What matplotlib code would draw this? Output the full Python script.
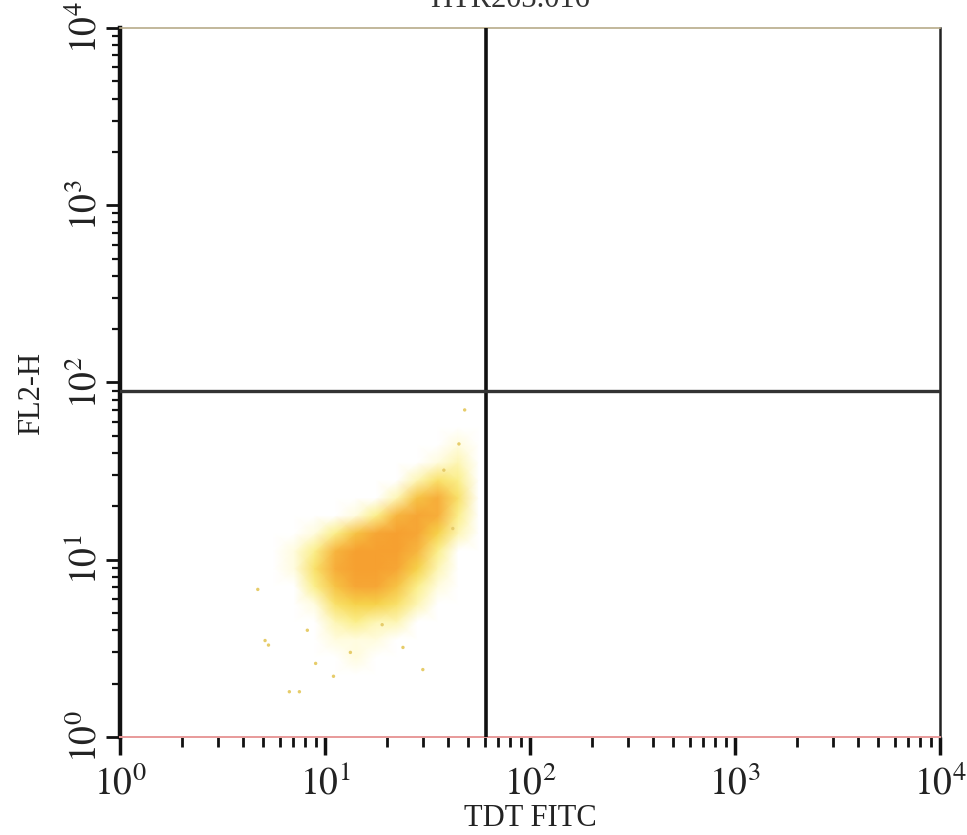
import numpy as np
import matplotlib
matplotlib.use("Agg")
import matplotlib.pyplot as plt
from matplotlib.colors import LinearSegmentedColormap
from matplotlib.ticker import LogLocator, FixedFormatter, NullFormatter, FixedLocator

plt.rcParams['mathtext.fontset'] = 'stix'
plt.rcParams['font.family'] = ['Liberation Serif', 'DejaVu Serif']

# ---- data ----
title_text = "HTR203.016"
x_label = "TDT FITC"
y_label = "FL2-H"
x_tick_vals = [1, 10, 100, 1000, 10000]
x_tick_labels = [r"$10^0$", r"$10^1$", r"$10^2$", r"$10^3$", r"$10^4$"]
y_tick_vals = [1, 10, 100, 1000, 10000]
y_tick_labels = [r"$10^0$", r"$10^1$", r"$10^2$", r"$10^3$", r"$10^4$"]
quad_x = 61.0
quad_y = 89.0

# density grid (log10 bin centres)
dens_x_log = [0.65, 0.75, 0.85, 0.95, 1.05, 1.15, 1.25, 1.35, 1.45, 1.55, 1.65, 1.75, 1.85]
dens_y_log = [0.35, 0.45, 0.55, 0.65, 0.75, 0.85, 0.95, 1.05, 1.15, 1.25, 1.35, 1.45, 1.55, 1.65, 1.75]
density = [
    # 0.65 .75 .85 .95 1.05 1.15 1.25 1.35 1.45 1.55 1.65 1.75 1.85
    [0, 0, 0, 0, 0, 0, 0, 0, 0, 0, 0, 0, 0],   # 0.35
    [0, 0, 0, 0, 0, 1, 0, 0, 0, 0, 0, 0, 0],   # 0.45
    [0, 0, 0, 0, 1, 1, 1, 0, 0, 0, 0, 0, 0],   # 0.55
    [0, 0, 0, 0, 2, 3, 2, 2, 0, 0, 0, 0, 0],   # 0.65
    [0, 0, 0, 1, 4, 5, 5, 4, 2, 0, 0, 0, 0],   # 0.75
    [0, 0, 0, 3, 6, 9, 9, 6, 3, 1, 0, 0, 0],   # 0.85
    [0, 0, 1, 4, 8, 10, 10, 9, 5, 2, 0, 0, 0], # 0.95
    [0, 0, 1, 3, 7, 10, 10, 10, 7, 3, 0, 0, 0],# 1.05
    [0, 0, 0, 1, 3, 6, 9, 10, 9, 5, 2, 0, 0],  # 1.15
    [0, 0, 0, 0, 0, 1, 3, 7, 9, 8, 3, 0, 0],   # 1.25
    [0, 0, 0, 0, 0, 0, 0, 2, 6, 8, 4, 0, 0],   # 1.35
    [0, 0, 0, 0, 0, 0, 0, 0, 2, 4, 3, 0, 0],   # 1.45
    [0, 0, 0, 0, 0, 0, 0, 0, 0, 1, 2, 0, 0],   # 1.55
    [0, 0, 0, 0, 0, 0, 0, 0, 0, 0, 1, 0, 0],   # 1.65
    [0, 0, 0, 0, 0, 0, 0, 0, 0, 0, 0, 0, 0],   # 1.75
]

# sparse outlying events
out_x = [5.1, 4.7, 5.3, 13.3, 19.0, 7.5, 6.7, 45.0, 48.0, 38.0, 9.0, 24.0, 30.0, 11.0, 8.2, 42.0]
out_y = [3.5, 6.8, 3.3, 3.0, 4.3, 1.8, 1.8, 45.0, 70.0, 32.0, 2.6, 3.2, 2.4, 2.2, 4.0, 15.0]

# ---- figure ----
fig = plt.figure(figsize=(9.67, 8.35), dpi=100)
ax = fig.add_axes([0.1241, 0.1174, 0.8480, 0.8491])
ax.set_xscale('log')
ax.set_yscale('log')
ax.set_xlim(1, 10000)
ax.set_ylim(1, 10000)

cmap = LinearSegmentedColormap.from_list(
    "flow", [(0.0, "#ffffff"), (0.12, "#fffbd8"), (0.3, "#fbef8a"),
             (0.5, "#f6d24a"), (0.72, "#f7b23e"), (1.0, "#f6a030")])
X, Y = np.meshgrid(10 ** np.array(dens_x_log), 10 ** np.array(dens_y_log))
ax.pcolormesh(X, Y, np.array(density, dtype=float), shading='gouraud',
              cmap=cmap, vmin=0, vmax=10, zorder=1, rasterized=True)
ax.scatter(out_x, out_y, s=6, color="#e6cc6a", edgecolors='none', zorder=2)

# quadrant lines
ax.axvline(quad_x, color="#111111", lw=2.6, zorder=3)
ax.axhline(quad_y, color="#333333", lw=2.4, zorder=3)

# spines
ax.spines['left'].set_linewidth(3.2)
ax.spines['left'].set_color("#111111")
ax.spines['right'].set_linewidth(1.8)
ax.spines['right'].set_color("#222222")
ax.spines['top'].set_linewidth(1.2)
ax.spines['top'].set_color("#b8ab8a")
ax.spines['bottom'].set_linewidth(1.4)
ax.spines['bottom'].set_color("#e89a9a")

# ticks
ax.xaxis.set_major_locator(FixedLocator(x_tick_vals))
ax.xaxis.set_major_formatter(FixedFormatter(x_tick_labels))
ax.yaxis.set_major_locator(FixedLocator(y_tick_vals))
ax.yaxis.set_major_formatter(FixedFormatter(y_tick_labels))
ax.xaxis.set_minor_locator(LogLocator(base=10, subs=np.arange(2, 10), numticks=20))
ax.yaxis.set_minor_locator(LogLocator(base=10, subs=np.arange(2, 10), numticks=20))
ax.xaxis.set_minor_formatter(NullFormatter())
ax.yaxis.set_minor_formatter(NullFormatter())
ax.tick_params(axis='x', which='major', direction='out', length=13, width=2.5,
               color="#111111", labelsize=27, pad=8, labelcolor="#222222")
ax.tick_params(axis='x', which='minor', direction='out', length=7, width=2,
               color="#111111")
ax.tick_params(axis='y', which='major', direction='out', length=10, width=2,
               color="#111111", labelsize=27, pad=1, labelcolor="#222222")
ax.tick_params(axis='y', which='minor', direction='out', length=6, width=1.6,
               color="#111111")
for lab in ax.get_yticklabels():
    lab.set_rotation(90)
    lab.set_va('center')

ax.set_xlabel(x_label, fontsize=22, labelpad=0, color="#222222")
ax.set_ylabel(y_label, fontsize=22, labelpad=2, color="#222222")
ax.yaxis.set_label_coords(-0.09, 0.485)
ax.xaxis.set_label_coords(0.5, -0.095)

fig.text(0.527, 0.983, title_text, ha='center', va='bottom', fontsize=22,
         color="#333333")

fig.savefig("out.png", dpi=100, facecolor="white")
